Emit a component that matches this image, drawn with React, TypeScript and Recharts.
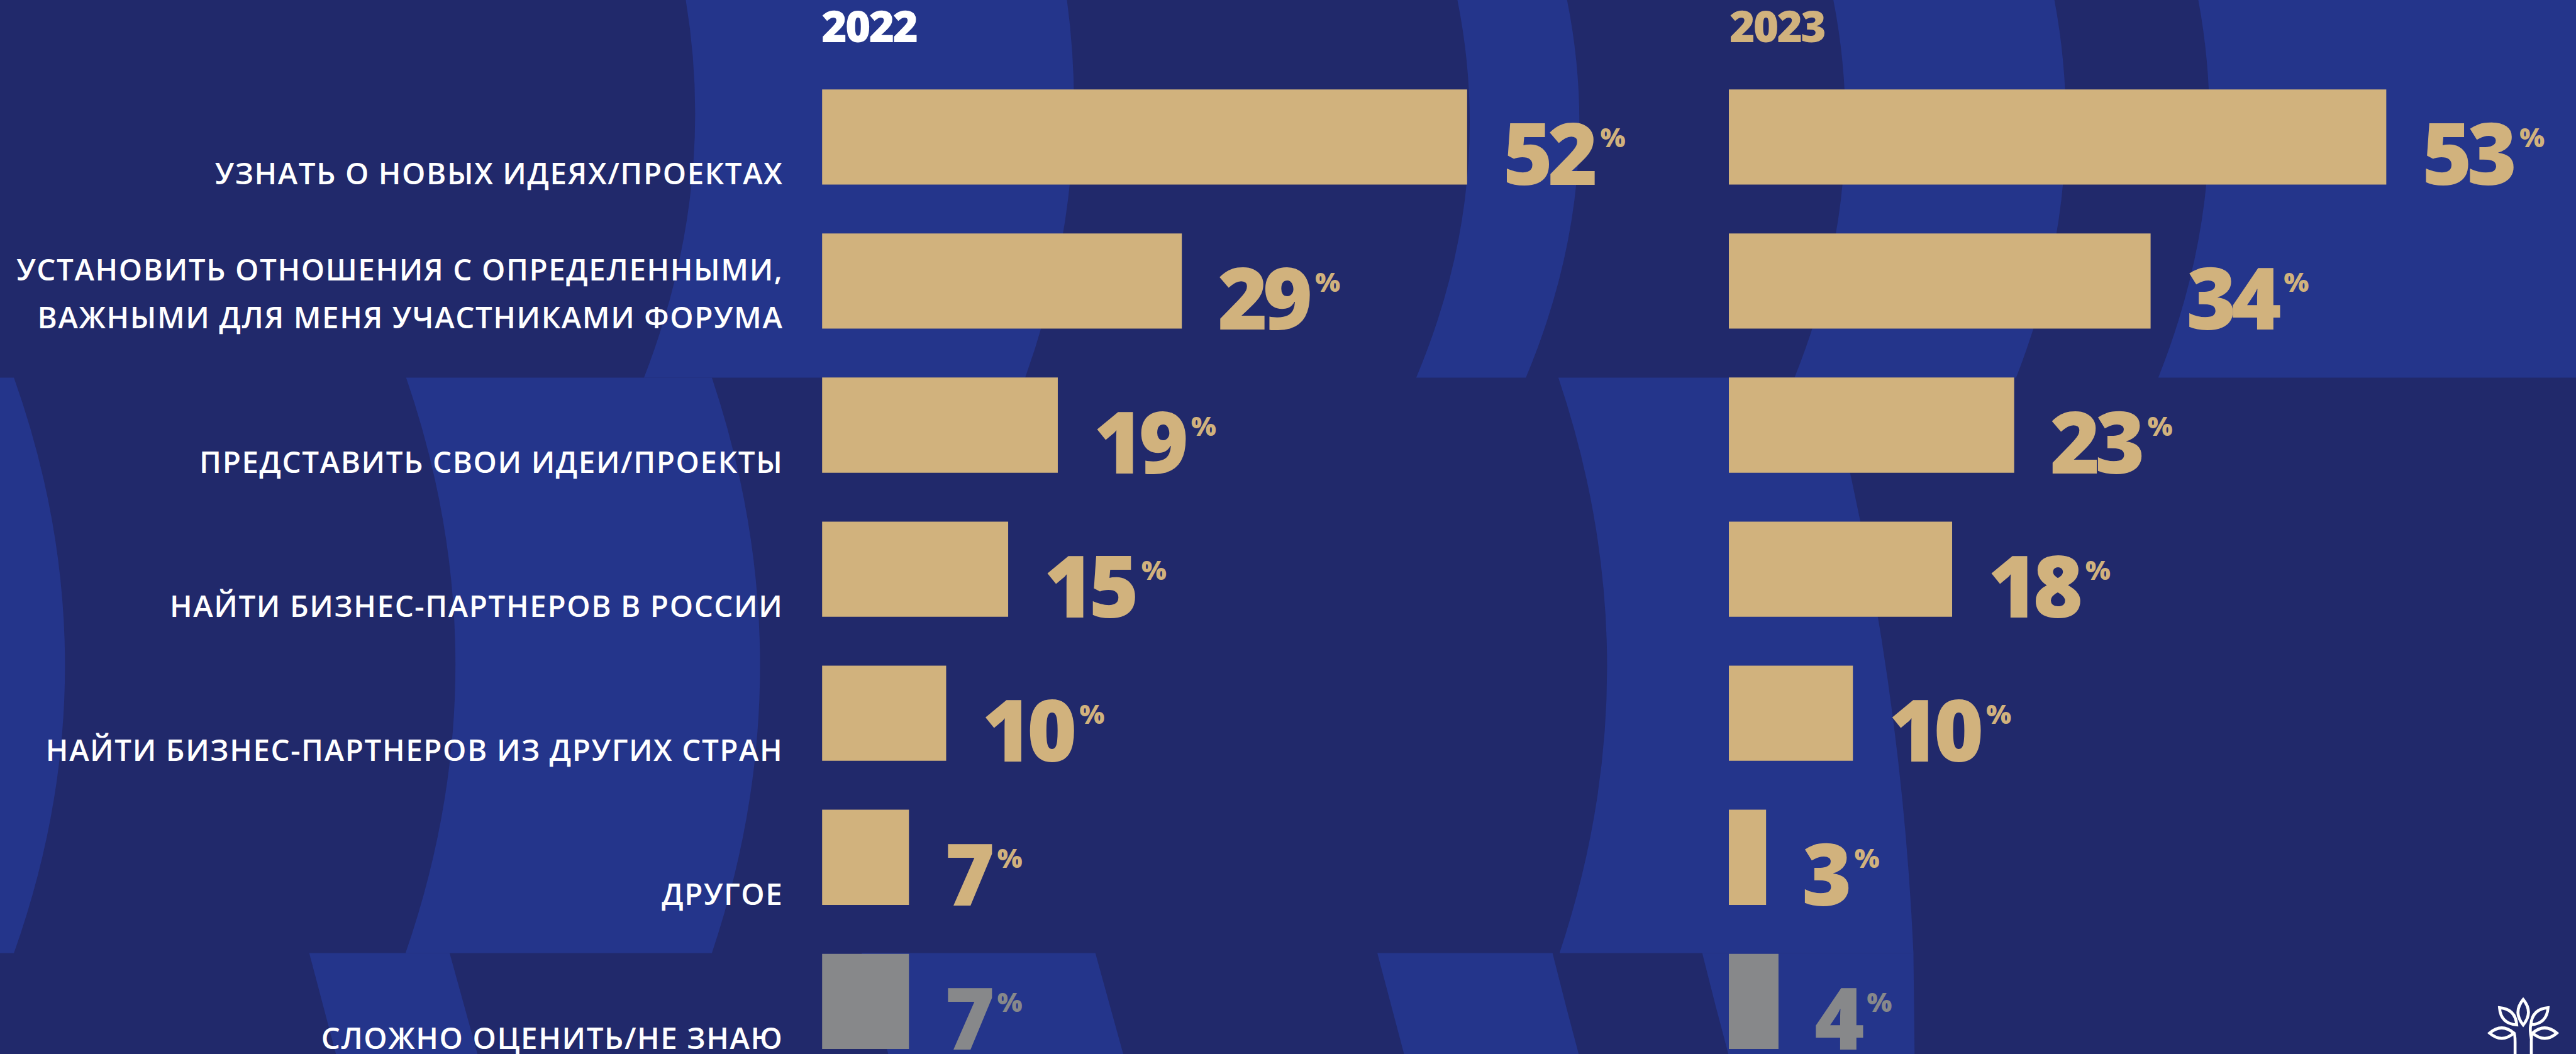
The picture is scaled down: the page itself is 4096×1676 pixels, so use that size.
import { BarChart, Bar, XAxis, YAxis, Cell, LabelList } from 'recharts'

// ---------------------------------------------------------------------------
// Цели участия в форуме — 2022 vs 2023, horizontal bars on a navy "wave" field
// ---------------------------------------------------------------------------

const categories = [
  'УЗНАТЬ О НОВЫХ ИДЕЯХ/ПРОЕКТАХ',
  'УСТАНОВИТЬ ОТНОШЕНИЯ С ОПРЕДЕЛЕННЫМИ,\nВАЖНЫМИ ДЛЯ МЕНЯ УЧАСТНИКАМИ ФОРУМА',
  'ПРЕДСТАВИТЬ СВОИ ИДЕИ/ПРОЕКТЫ',
  'НАЙТИ БИЗНЕС-ПАРТНЕРОВ В РОССИИ',
  'НАЙТИ БИЗНЕС-ПАРТНЕРОВ ИЗ ДРУГИХ СТРАН',
  'ДРУГОЕ',
  'СЛОЖНО ОЦЕНИТЬ/НЕ ЗНАЮ',
]
const values2022 = [52, 29, 19, 15, 10, 7, 7]
const values2023 = [53, 34, 23, 18, 10, 3, 4]
const years = ['2022', '2023']

const rows = categories.map((category, i) => ({
  category,
  v2022: values2022[i],
  v2023: values2023[i],
}))

const S = 4096 / 4440
const NAVY = '#21296B'
const BLUE = '#24358B'
const GOLD = '#D1B27D'
const GRAY = '#87888A'
const FONT = '"Open Sans", "Noto Sans", sans-serif'

const BAR_SIZE = 164 * S
const BAND = 248.33 * S
const PLOT_TOP = 236 * S - BAND / 2
const CHART_H = 1710
const PLOT_H = BAND * categories.length
const PER_PCT = 21.38 * S
const DOMAIN_MAX = 60
const PLOT_W = DOMAIN_MAX * PER_PCT
const LEFT_2022 = 1417 * S
const LEFT_2023 = 2980 * S
const LINE_H = 83 * S

const CategoryTick = (props: any) => {
  const { x, y, payload } = props
  const lines = String(payload.value).split('\n')
  const base = y + BAR_SIZE / 2
  return (
    <text
      textAnchor="end"
      fill="#ffffff"
      fontFamily={FONT}
      fontWeight={600}
      fontSize={47.5}
      letterSpacing={1.6}
    >
      {lines.map((l, i) => (
        <tspan key={i} x={x} y={base - (lines.length - 1 - i) * LINE_H}>
          {l}
        </tspan>
      ))}
    </text>
  )
}

const ValueLabel = (props: any) => {
  const { x, y, width, height, value, index } = props
  const color = index === categories.length - 1 ? GRAY : GOLD
  return (
    <text
      x={x + width + 57}
      y={y + height + 1}
      fill={color}
      fontFamily={FONT}
      fontWeight={800}
      fontSize={135.7}
      letterSpacing={-8}
    >
      {value}
      <tspan fontSize={42} dx={12} dy={-60} letterSpacing={0}>
        %
      </tspan>
    </text>
  )
}

// background stripes: edges given as [top, middle, bottom] x positions (reference px)
type Edge = [number, number, number]
const stripe = (y0: number, y1: number, l: Edge, r: Edge) => {
  const ym = (y0 + y1) / 2
  const lc = 2 * l[1] - (l[0] + l[2]) / 2
  const rc = 2 * r[1] - (r[0] + r[2]) / 2
  return `M ${l[0]} ${y0} L ${r[0]} ${y0} Q ${rc} ${ym} ${r[2]} ${y1} L ${l[2]} ${y1} Q ${lc} ${ym} ${l[0]} ${y0} Z`
}

const stripes = [
  // top band
  stripe(0, 651, [1182, 1191, 1110], [1839, 1843, 1767]),
  stripe(0, 651, [2512, 2527, 2441], [2701, 2716, 2630]),
  stripe(0, 651, [3160, 3175, 3093], [3541, 3555, 3475]),
  stripe(0, 651, [3789, 3802, 3720], [4450, 4450, 4450]),
  // middle band
  stripe(651, 1643, [-10, -10, -10], [24, 112, 24]),
  stripe(651, 1643, [700, 785, 699], [1227, 1310, 1227]),
  stripe(651, 1643, [2686, 2770, 2688], [3150, 3250, 3298]),
  // bottom band
  stripe(1643, 1817, [533, 556, 579], [775, 799, 823]),
  stripe(1643, 1817, [1485, 1508, 1531], [1888, 1912, 1936]),
  stripe(1643, 1817, [2374, 2397, 2420], [2676, 2698, 2721]),
  stripe(1643, 1817, [2934, 2956, 2979], [3298, 3299, 3300]),
]

const leaf = (cx: number, cy: number, len: number, wid: number, angle: number) => (
  <path
    key={`${cx}-${cy}`}
    d={`M ${-len} 0 Q 0 ${-wid * 2} ${len} 0 Q 0 ${wid * 2} ${-len} 0 Z`}
    transform={`translate(${cx} ${cy}) rotate(${angle})`}
  />
)

const Background = () => (
  <svg
    width={4096}
    height={1676}
    viewBox="0 0 4440 1817"
    preserveAspectRatio="none"
    style={{ position: 'absolute', left: 0, top: 0 }}
  >
    <rect x={0} y={0} width={4440} height={1817} fill={NAVY} />
    {stripes.map((d, i) => (
      <path key={i} d={d} fill={BLUE} />
    ))}
    <text x={1416} y={72.5} fill="#ffffff" fontFamily={FONT} fontWeight={800} fontSize={75} letterSpacing={-3}>
      {years[0]}
    </text>
    <text x={2981} y={72.5} fill={GOLD} fontFamily={FONT} fontWeight={800} fontSize={75} letterSpacing={-3}>
      {years[1]}
    </text>
    <g fill="none" stroke="#ffffff" strokeWidth={5} strokeLinecap="round">
      {leaf(4349, 1745, 22, 9, 90)}
      {leaf(4323, 1752, 21, 9, 45)}
      {leaf(4377, 1752, 21, 9, 135)}
      {leaf(4312, 1781, 21, 9, 0)}
      {leaf(4386, 1781, 21, 9, 0)}
      <path d="M 4335 1820 L 4335 1796 Q 4335 1783 4333 1781" />
      <path d="M 4363 1820 L 4363 1796 Q 4363 1783 4365 1781" />
      <path d="M 4363 1790 Q 4360 1775 4362 1767" />
    </g>
  </svg>
)

export default function App() {
  const w1 = LEFT_2023
  const w2 = 4096 - LEFT_2023
  return (
    <div
      style={{
        position: 'fixed',
        left: 0,
        top: 0,
        width: 4096,
        height: 1676,
        overflow: 'hidden',
        background: NAVY,
      }}
    >
      <Background />
      <div style={{ position: 'absolute', left: 0, top: 0 }}>
        <BarChart
          layout="vertical"
          width={w1}
          height={CHART_H}
          data={rows}
          margin={{ top: PLOT_TOP, right: w1 - LEFT_2022 - PLOT_W, bottom: CHART_H - PLOT_TOP - PLOT_H, left: 0 }}
        >
          <XAxis type="number" domain={[0, DOMAIN_MAX]} hide />
          <YAxis
            type="category"
            dataKey="category"
            width={LEFT_2022}
            axisLine={false}
            tickLine={false}
            tickSize={0}
            tickMargin={LEFT_2022 - 1350 * S}
            interval={0}
            tick={<CategoryTick />}
          />
          <Bar dataKey="v2022" barSize={BAR_SIZE} isAnimationActive={false}>
            {rows.map((r, i) => (
              <Cell key={`c22-${i}`} fill={i === rows.length - 1 ? GRAY : GOLD} />
            ))}
            <LabelList dataKey="v2022" content={<ValueLabel />} />
          </Bar>
        </BarChart>
      </div>
      <div style={{ position: 'absolute', left: LEFT_2023, top: 0 }}>
        <BarChart
          layout="vertical"
          width={w2}
          height={CHART_H}
          data={rows}
          margin={{ top: PLOT_TOP, right: w2 - PLOT_W, bottom: CHART_H - PLOT_TOP - PLOT_H, left: 0 }}
        >
          <XAxis type="number" domain={[0, DOMAIN_MAX]} hide />
          <YAxis type="category" dataKey="category" hide />
          <Bar dataKey="v2023" barSize={BAR_SIZE} isAnimationActive={false}>
            {rows.map((r, i) => (
              <Cell key={`c23-${i}`} fill={i === rows.length - 1 ? GRAY : GOLD} />
            ))}
            <LabelList dataKey="v2023" content={<ValueLabel />} />
          </Bar>
        </BarChart>
      </div>
    </div>
  )
}
